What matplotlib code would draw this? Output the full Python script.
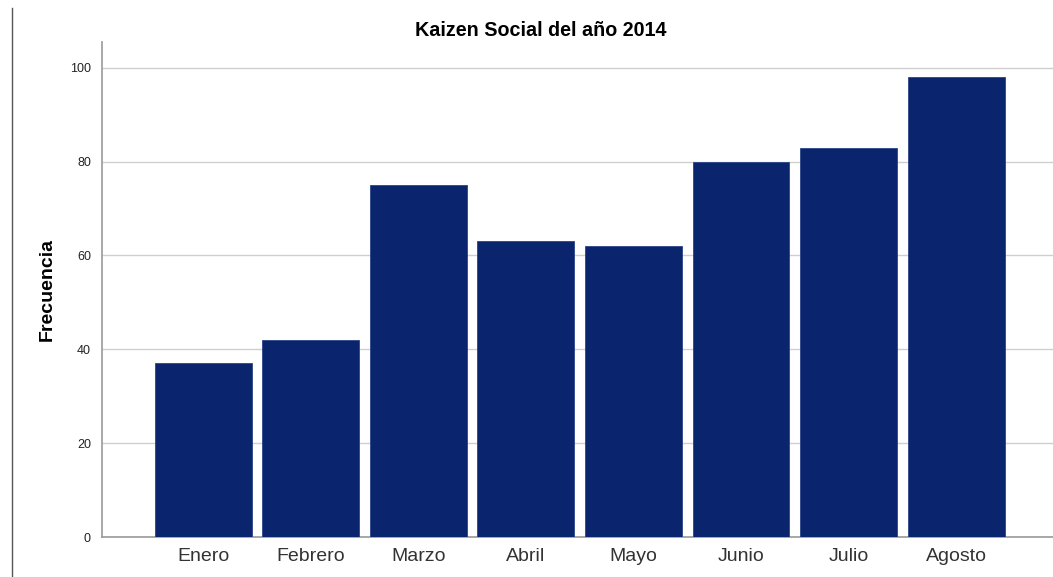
import numpy as np
from matplotlib import pyplot as plt
from matplotlib.lines import Line2D

plt.rcParams['font.family'] = ['Liberation Sans', 'DejaVu Sans']

months = ['Enero', 'Febrero', 'Marzo', 'Abril', 'Mayo', 'Junio', 'Julio', 'Agosto']
freq = [37, 42, 75, 63, 62, 80, 83, 98]
yticks = [0, 20, 40, 60, 80, 100]

fig = plt.figure(figsize=(10.53, 5.77), dpi=100)
ax = fig.add_axes([0.0969, 0.0693, 0.9031, 0.858])

x = np.arange(len(months))
ax.bar(x, freq, 0.9, color='#0a246e', edgecolor='#2a4488', linewidth=0.6, zorder=3)

ax.set_xlim(-0.94, 7.9)
ax.set_ylim(0, 105.5)
ax.set_yticks(yticks)
ax.set_xticks(x, months)
ax.grid(axis='y', color='#cfcfcf', linewidth=1.0, zorder=0)
ax.tick_params(axis='y', length=0, labelsize=9, pad=8, labelcolor='#222222')
ax.tick_params(axis='x', length=0, labelsize=14, pad=8, labelcolor='#333333')
for s in ('top', 'right'):
    ax.spines[s].set_visible(False)
for s in ('left', 'bottom'):
    ax.spines[s].set_color('#999999')
    ax.spines[s].set_linewidth(1.2)

ax.set_ylabel('Frecuencia', fontsize=14, fontweight='bold', labelpad=10)
fig.text(541 / 1053, 1 - 30 / 577, 'Kaizen Social del año 2014',
         ha='center', va='center', fontsize=14.2, fontweight='bold')

# vertical separator on the far left
fig.add_artist(Line2D([12 / 1053, 12 / 1053], [0, 1 - 8 / 577],
                      color='#555555', linewidth=1.0))

fig.savefig('out.png', dpi=100)
